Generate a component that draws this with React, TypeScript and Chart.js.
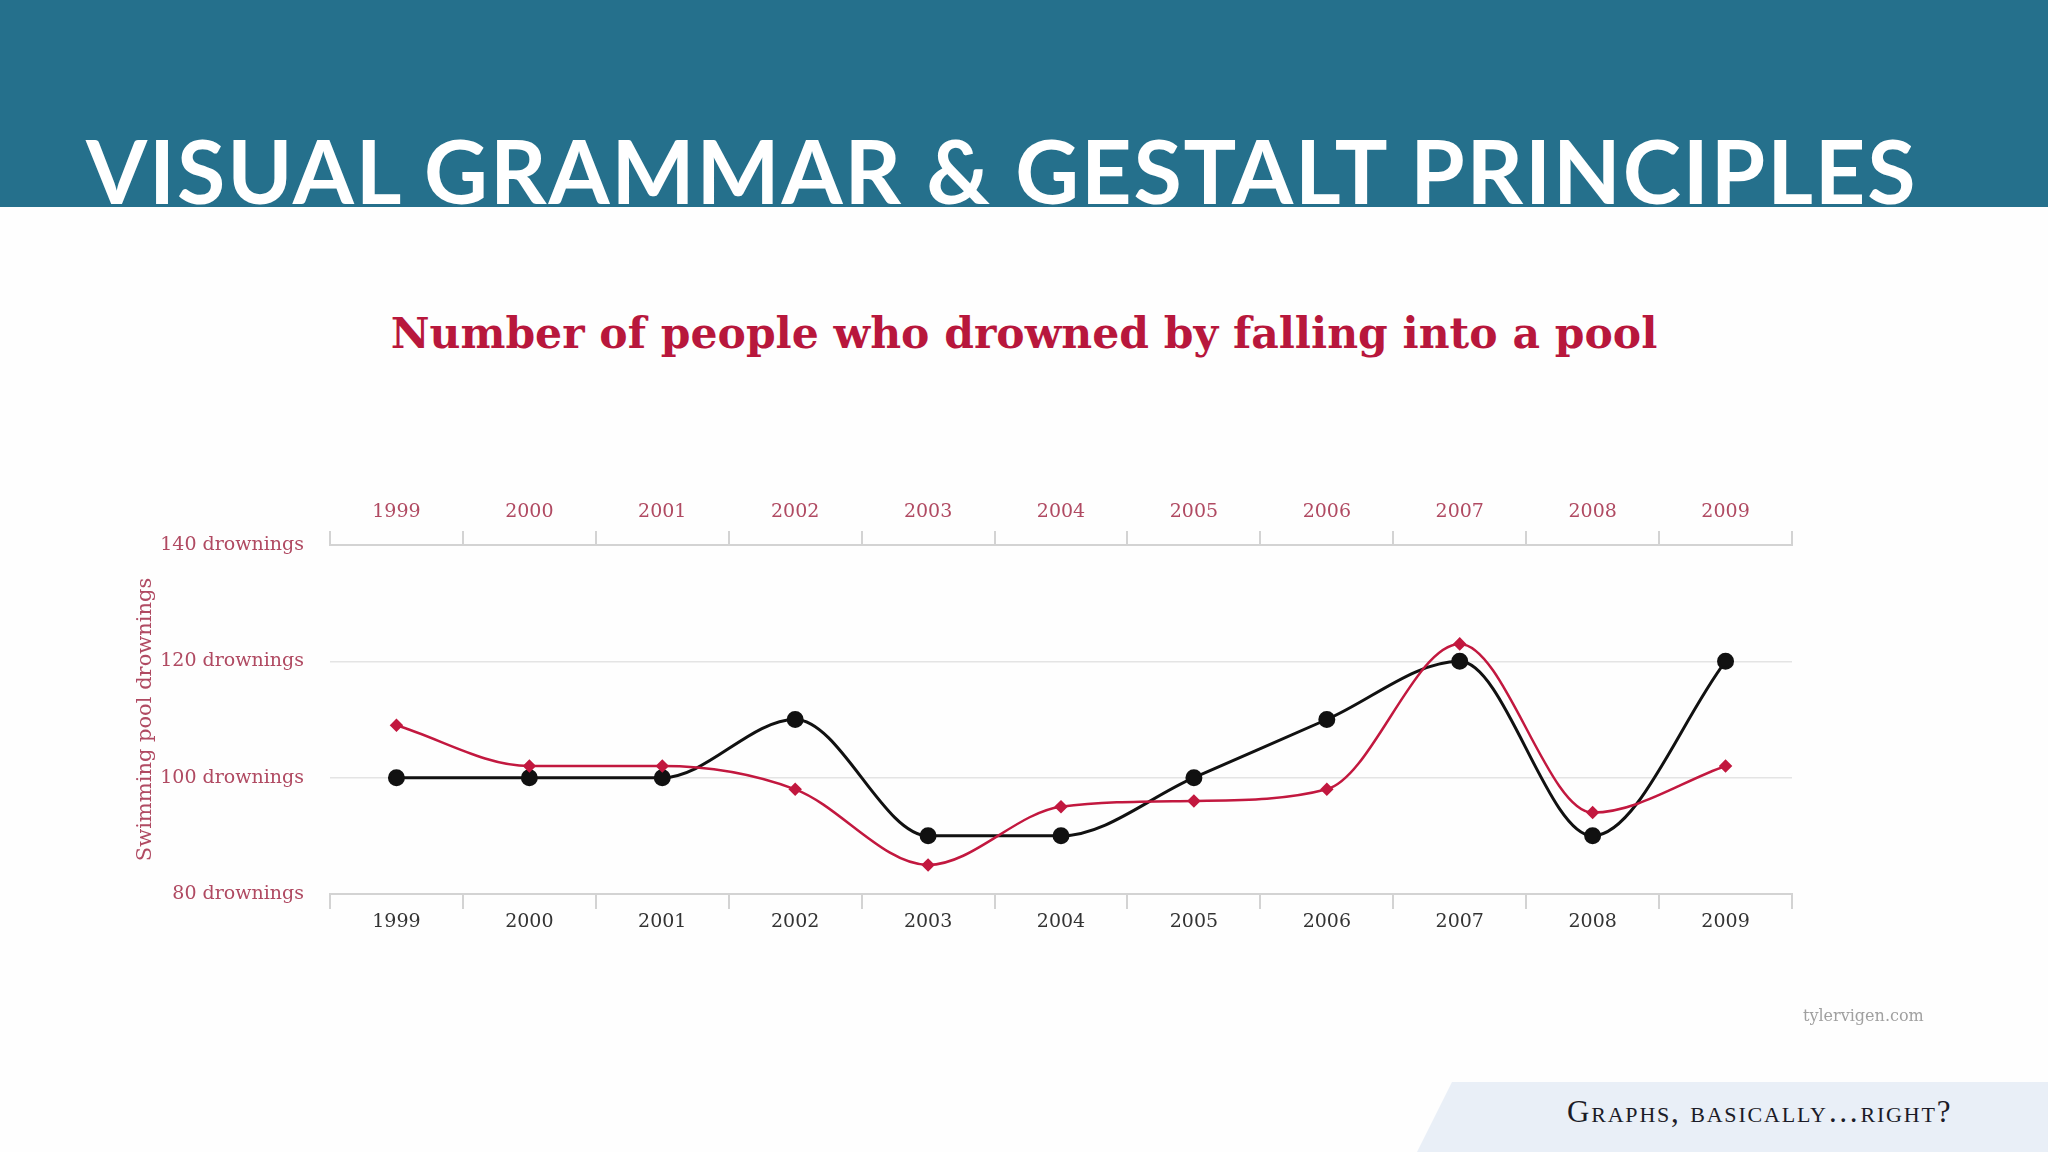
import { useEffect, useRef } from 'react';
import { Chart, registerables } from 'chart.js';

Chart.register(...registerables);

const years = ['1999', '2000', '2001', '2002', '2003', '2004', '2005', '2006', '2007', '2008', '2009'];
const poolDrownings = [109, 102, 102, 98, 85, 95, 96, 98, 123, 94, 102];
const cageFilms = [100, 100, 100, 110, 90, 90, 100, 110, 120, 90, 120];
const yTicks = [80, 100, 120, 140];

const pink = '#b04a62';
const axisGray = '#d3d3d3';
const serif = '"DejaVu Serif", serif';

export default function App() {
  const canvasRef = useRef<HTMLCanvasElement>(null);
  const chartRef = useRef<Chart | null>(null);

  useEffect(() => {
    if (!canvasRef.current) return;
    chartRef.current?.destroy();

    chartRef.current = new Chart(canvasRef.current, {
      type: 'line',
      data: {
        labels: years,
        datasets: [
          {
            label: 'Swimming pool drownings',
            data: poolDrownings,
            borderColor: '#c2183f',
            backgroundColor: '#c2183f',
            borderWidth: 2.5,
            pointStyle: 'rectRot',
            pointRadius: 5,
            cubicInterpolationMode: 'monotone',
            tension: 0.4,
            xAxisID: 'x',
            yAxisID: 'y',
          },
          {
            label: 'Nicolas Cage films',
            data: cageFilms,
            borderColor: '#111111',
            backgroundColor: '#111111',
            borderWidth: 3,
            pointRadius: 7,
            cubicInterpolationMode: 'monotone',
            tension: 0.4,
            xAxisID: 'x',
            yAxisID: 'y',
          },
        ],
      },
      options: {
        responsive: true,
        maintainAspectRatio: false,
        animation: false,
        layout: { padding: { right: 68 } },
        plugins: { legend: { display: false }, tooltip: { enabled: false } },
        scales: {
          x: {
            type: 'category',
            position: 'bottom',
            offset: true,
            afterFit: (s: any) => { s.height = 66; },
            grid: { offset: true, drawOnChartArea: false, drawTicks: true, tickLength: 15, color: axisGray, lineWidth: 2 },
            border: { display: true, color: axisGray, width: 2 },
            ticks: { color: '#333333', font: { family: serif, size: 19 }, padding: 2, maxRotation: 0 },
          },
          x2: {
            type: 'category',
            position: 'top',
            offset: true,
            afterFit: (s: any) => { s.height = 85; },
            grid: { offset: true, drawOnChartArea: false, drawTicks: true, tickLength: 14, color: axisGray, lineWidth: 2 },
            border: { display: true, color: axisGray, width: 2 },
            ticks: { color: pink, font: { family: serif, size: 19 }, padding: 8, maxRotation: 0 },
          },
          y: {
            min: yTicks[0],
            max: yTicks[yTicks.length - 1],
            afterFit: (s: any) => { s.width = 230; },
            afterBuildTicks: (s: any) => { s.ticks = yTicks.map((v) => ({ value: v })); },
            grid: { drawTicks: false, color: '#e4e4e4', lineWidth: 1.5 },
            border: { display: false },
            ticks: {
              color: pink,
              font: { family: serif, size: 19 },
              padding: 26,
              callback: (v: any) => `${v} drownings`,
            },
            title: {
              display: true,
              text: 'Swimming pool drownings',
              color: pink,
              font: { family: serif, size: 21 },
              padding: { top: 33, bottom: 0 },
            },
          },
        },
      },
    });

    return () => { chartRef.current?.destroy(); };
  }, []);

  return (
    <div style={{ position: 'absolute', left: 0, top: 0, width: 2048, height: 1152, overflow: 'hidden', background: '#fefefe' }}>
      {/* header band */}
      <div style={{ position: 'absolute', left: 0, top: 0, width: 2048, height: 207, background: '#25708c' }} />
      <div style={{
        position: 'absolute', left: 86, top: 126, fontFamily: 'Lato, sans-serif', fontWeight: 700,
        fontSize: 88, lineHeight: 1, color: '#fff', whiteSpace: 'nowrap', letterSpacing: 1.9,
      }}>
        VISUAL GRAMMAR &amp; GESTALT PRINCIPLES
      </div>

      {/* chart title */}
      <div style={{
        position: 'absolute', left: 0, width: 2048, top: 312, textAlign: 'center', fontFamily: serif,
        fontWeight: 700, fontSize: 42.5, lineHeight: 1, color: '#b8173c', whiteSpace: 'nowrap',
      }}>
        Number of people who drowned by falling into a pool
      </div>

      <div style={{ position: 'absolute', left: 100, top: 460, width: 1760, height: 500 }}>
        <canvas ref={canvasRef} />
      </div>

      <div style={{
        position: 'absolute', left: 1803, top: 1006, fontFamily: serif, fontSize: 16, color: '#a0a0a0',
        filter: 'blur(0.6px)', whiteSpace: 'nowrap',
      }}>
        tylervigen.com
      </div>

      {/* footer band */}
      <div style={{
        position: 'absolute', left: 1417, top: 1082, width: 631, height: 70, background: '#e9eff7',
        clipPath: 'polygon(35px 0, 100% 0, 100% 100%, 0 100%)',
      }} />
      <div style={{
        position: 'absolute', left: 1567, top: 1096, fontFamily: '"Liberation Serif", serif', fontSize: 31,
        lineHeight: 1, fontVariant: 'small-caps', color: '#1c1c28', letterSpacing: 1.8, whiteSpace: 'nowrap',
      }}>
        Graphs, basically…right?
      </div>
    </div>
  );
}
